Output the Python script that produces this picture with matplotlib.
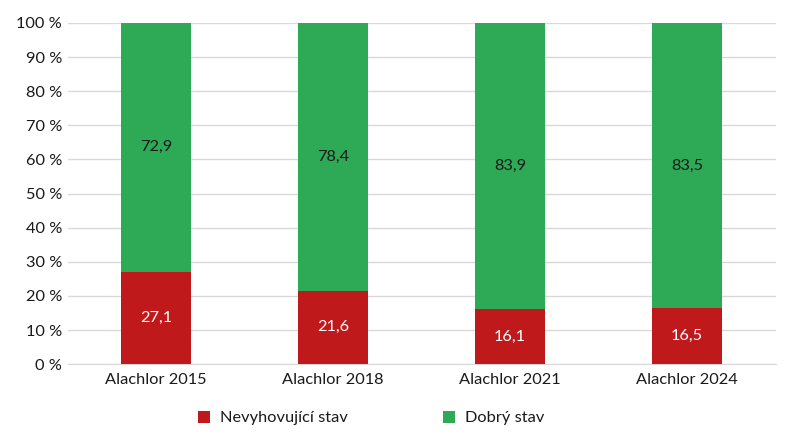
import matplotlib
matplotlib.use("Agg")
import matplotlib.pyplot as plt
import numpy as np

categories = ["Alachlor 2015", "Alachlor 2018", "Alachlor 2021", "Alachlor 2024"]
nevyhovujici = [27.1, 21.6, 16.1, 16.5]
dobry = [72.9, 78.4, 83.9, 83.5]
series_names = ["Nevyhovující stav", "Dobrý stav"]

plt.rcParams['font.family'] = ['Lato', 'DejaVu Sans']

red = "#C0191B"
green = "#2EAA56"
fs = 11.8

fig = plt.figure(figsize=(8, 4.42), dpi=100)
ax = fig.add_axes([0.0844, 0.176, 0.8850, 0.772])

x = np.arange(len(categories))
w = 0.395
b1 = ax.bar(x, nevyhovujici, w, color=red, label=series_names[0], zorder=3)
b2 = ax.bar(x, dobry, w, bottom=nevyhovujici, color=green, label=series_names[1], zorder=3)

for i in range(len(categories)):
    ax.text(x[i], nevyhovujici[i] / 2, f"{nevyhovujici[i]:.1f}".replace(".", ","),
            ha="center", va="center", color="white", fontsize=fs, zorder=4)
    ax.text(x[i], nevyhovujici[i] + dobry[i] / 2, f"{dobry[i]:.1f}".replace(".", ","),
            ha="center", va="center", color="#1a1a1a", fontsize=fs, zorder=4)

ax.set_xlim(-0.5, len(categories) - 0.5)
ax.set_ylim(0, 100)
ax.set_yticks(range(0, 101, 10))
ax.set_yticklabels([f"{v} %" for v in range(0, 101, 10)])
ax.set_xticks(x)
ax.set_xticklabels(categories)
ax.tick_params(axis="both", length=0, labelsize=fs, colors="#1a1a1a")
ax.tick_params(axis="y", pad=4)
ax.tick_params(axis="x", pad=6)
ax.yaxis.grid(True, color="#d9d9d9", linewidth=1, zorder=0)
for s in ["top", "right", "left"]:
    ax.spines[s].set_visible(False)
ax.spines["bottom"].set_color("#d9d9d9")

leg = fig.legend(handles=[b1, b2], labels=series_names, loc="center", bbox_to_anchor=(0.464, 0.054),
                 ncol=2, frameon=False, fontsize=fs, handlelength=0.75, handleheight=0.75,
                 columnspacing=5.8, handletextpad=0.6)
for t in leg.get_texts():
    t.set_color("#1a1a1a")

fig.savefig("out.png", dpi=100)
